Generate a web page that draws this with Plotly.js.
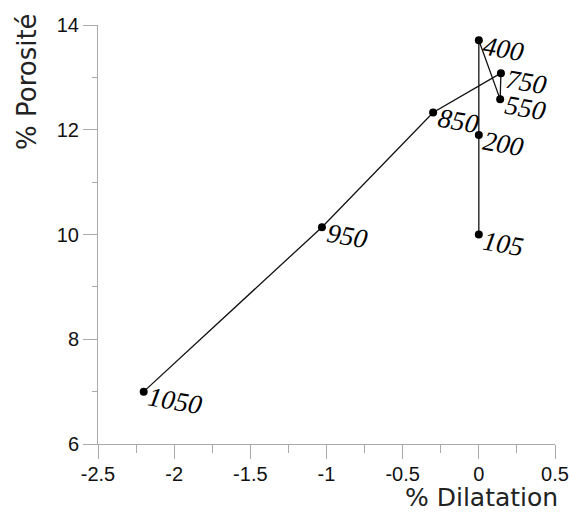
<!DOCTYPE html>
<html><head><meta charset="utf-8">
<script src="https://cdn.plot.ly/plotly-3.0.1.min.js"></script>
<style>html,body{margin:0;padding:0;background:#fff}#chart{width:569px;height:513px}</style>
</head><body><div id="chart"></div>
<script>
const temperatures = ['105','200','400','550','750','850','950','1050'];
const dilatation = [0, 0, 0, 0.14, 0.145, -0.30, -1.03, -2.20];
const porosite = [10.0, 11.9, 13.71, 12.58, 13.08, 12.33, 10.14, 7.0];
const xTicks = [-2.5, -2, -1.5, -1, -0.5, 0, 0.5];
const yTicks = [6, 8, 10, 12, 14];

const trace = {
  x: dilatation, y: porosite, mode: 'lines+markers', type: 'scatter',
  line: {color: '#111', width: 1.3},
  marker: {color: '#000', size: 8},
  hoverinfo: 'skip'
};

const labelAnn = temperatures.map((t, i) => ({
  x: dilatation[i], y: porosite[i], xref: 'x', yref: 'y', text: t,
  showarrow: false, xanchor: 'left', yanchor: 'middle', xshift: 0, yshift: -9,
  textangle: 10,
  font: {family: 'Liberation Serif, Times New Roman, serif', size: 27, color: '#000', style: 'italic'}
}));

const axisFont = {family: 'DejaVu Sans, Arial, sans-serif', size: 26, color: '#222'};
const titleAnn = [
  {text: '% Porosité', xref: 'paper', yref: 'paper', x: (27 - 98) / 457, y: (444 - 82) / 419,
   xanchor: 'center', yanchor: 'middle', textangle: -90, showarrow: false, font: axisFont},
  {text: '% Dilatation', xref: 'paper', yref: 'paper', x: (559 - 98) / 457, y: -(513 - 444) / 419,
   xanchor: 'right', yanchor: 'bottom', borderpad: 0, showarrow: false,
   font: {family: 'DejaVu Sans, Arial, sans-serif', size: 25, color: '#222'}}
];

const axCommon = {
  showgrid: false, zeroline: false, showline: true, linecolor: '#aaa', linewidth: 1,
  ticks: 'outside', ticklen: 14, tickcolor: '#aaa', tickwidth: 1, ticklabeloverflow: 'allow',
  tickfont: {family: 'Liberation Sans, Arial, sans-serif', size: 20, color: '#111'}
};

const layout = {
  width: 569, height: 513,
  margin: {l: 98, r: 14, t: 25, b: 69},
  paper_bgcolor: '#fff', plot_bgcolor: '#fff',
  showlegend: false,
  xaxis: Object.assign({}, axCommon, {range: [-2.5, 0.5], tickvals: xTicks, ticktext: xTicks.map(String),
    ticklabelstandoff: -2,
    minor: {dtick: 0.25, ticklen: 8, tickcolor: '#aaa', ticks: 'outside', showgrid: false}}),
  yaxis: Object.assign({}, axCommon, {range: [6, 14], tickvals: yTicks, ticktext: yTicks.map(String),
    minor: {dtick: 1, ticklen: 5, tickcolor: '#aaa', ticks: 'outside', showgrid: false}}),
  annotations: labelAnn.concat(titleAnn)
};

Plotly.newPlot('chart', [trace], layout, {displayModeBar: false, staticPlot: true});
</script></body></html>
